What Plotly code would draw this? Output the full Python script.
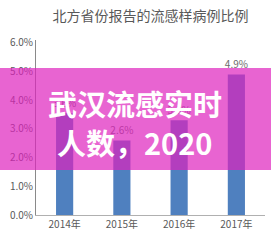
import plotly.graph_objects as go

categories = ["2014年", "2015年", "2016年", "2017年"]
values = [3.55, 2.6, 3.3, 4.9]
value_labels = ["3.6%", "2.6%", "3.3%", "4.9%"]
tick_vals = [0, 1, 2, 3, 4, 5, 6]
tick_text = ["0.0%", "1.0%", "2.0%", "3.0%", "4.0%", "5.0%", "6.0%"]
title_text = "北方省份报告的流感样病例比例"
overlay_lines = ["武汉流感实时", "人数，2020"]

FONT = "Noto Sans CJK SC, Noto Sans, sans-serif"
W, H = 271, 241
L, R, T, B = 36, 6, 40, 26

fig = go.Figure()
fig.add_trace(go.Bar(
    x=categories, y=values,
    marker=dict(color="#4F80BF", line=dict(width=0)),
    text=value_labels, textposition="outside", constraintext="none",
    textfont=dict(size=10, color="#6b6b6b", family=FONT),
    cliponaxis=False,
))

ph = H - T - B
def py(pix):
    return (H - B - pix) / ph

pw = W - L - R
fig.add_shape(type="rect", xref="paper", yref="paper",
              x0=-0.3, x1=1.2, y0=py(170), y1=py(68),
              fillcolor="rgba(222,34,190,0.7)", line=dict(width=0), layer="above")

for txt, ypix in zip(overlay_lines, [102.5, 141.5]):
    fig.add_annotation(text="<b>" + txt + "</b>", xref="paper", yref="paper",
                       x=(134.5 - L) / pw, y=py(ypix), showarrow=False,
                       xanchor="center", yanchor="middle",
                       font=dict(size=29, color="white", family=FONT))

fig.update_layout(
    width=W, height=H,
    margin=dict(l=L, r=R, t=T, b=B),
    paper_bgcolor="white", plot_bgcolor="white",
    showlegend=False,
    bargap=0.70,
    title=dict(text=title_text, x=0.5, xanchor="center", xref="paper",
               y=1 - 16 / H, yref="container", yanchor="middle",
               font=dict(size=14, color="#595959", family=FONT)),
    xaxis=dict(showline=True, linecolor="#b0b0b0", linewidth=1, showgrid=False,
               ticks="", tickfont=dict(size=10, color="#595959", family=FONT),
               fixedrange=True),
    yaxis=dict(range=[0, 6.1], tickvals=tick_vals, ticktext=tick_text,
               showline=True, linecolor="#8a8a8a", linewidth=1, showgrid=False,
               zeroline=False, ticks="",
               tickfont=dict(size=10, color="#595959", family=FONT),
               fixedrange=True),
)
fig.write_html("out.html")
